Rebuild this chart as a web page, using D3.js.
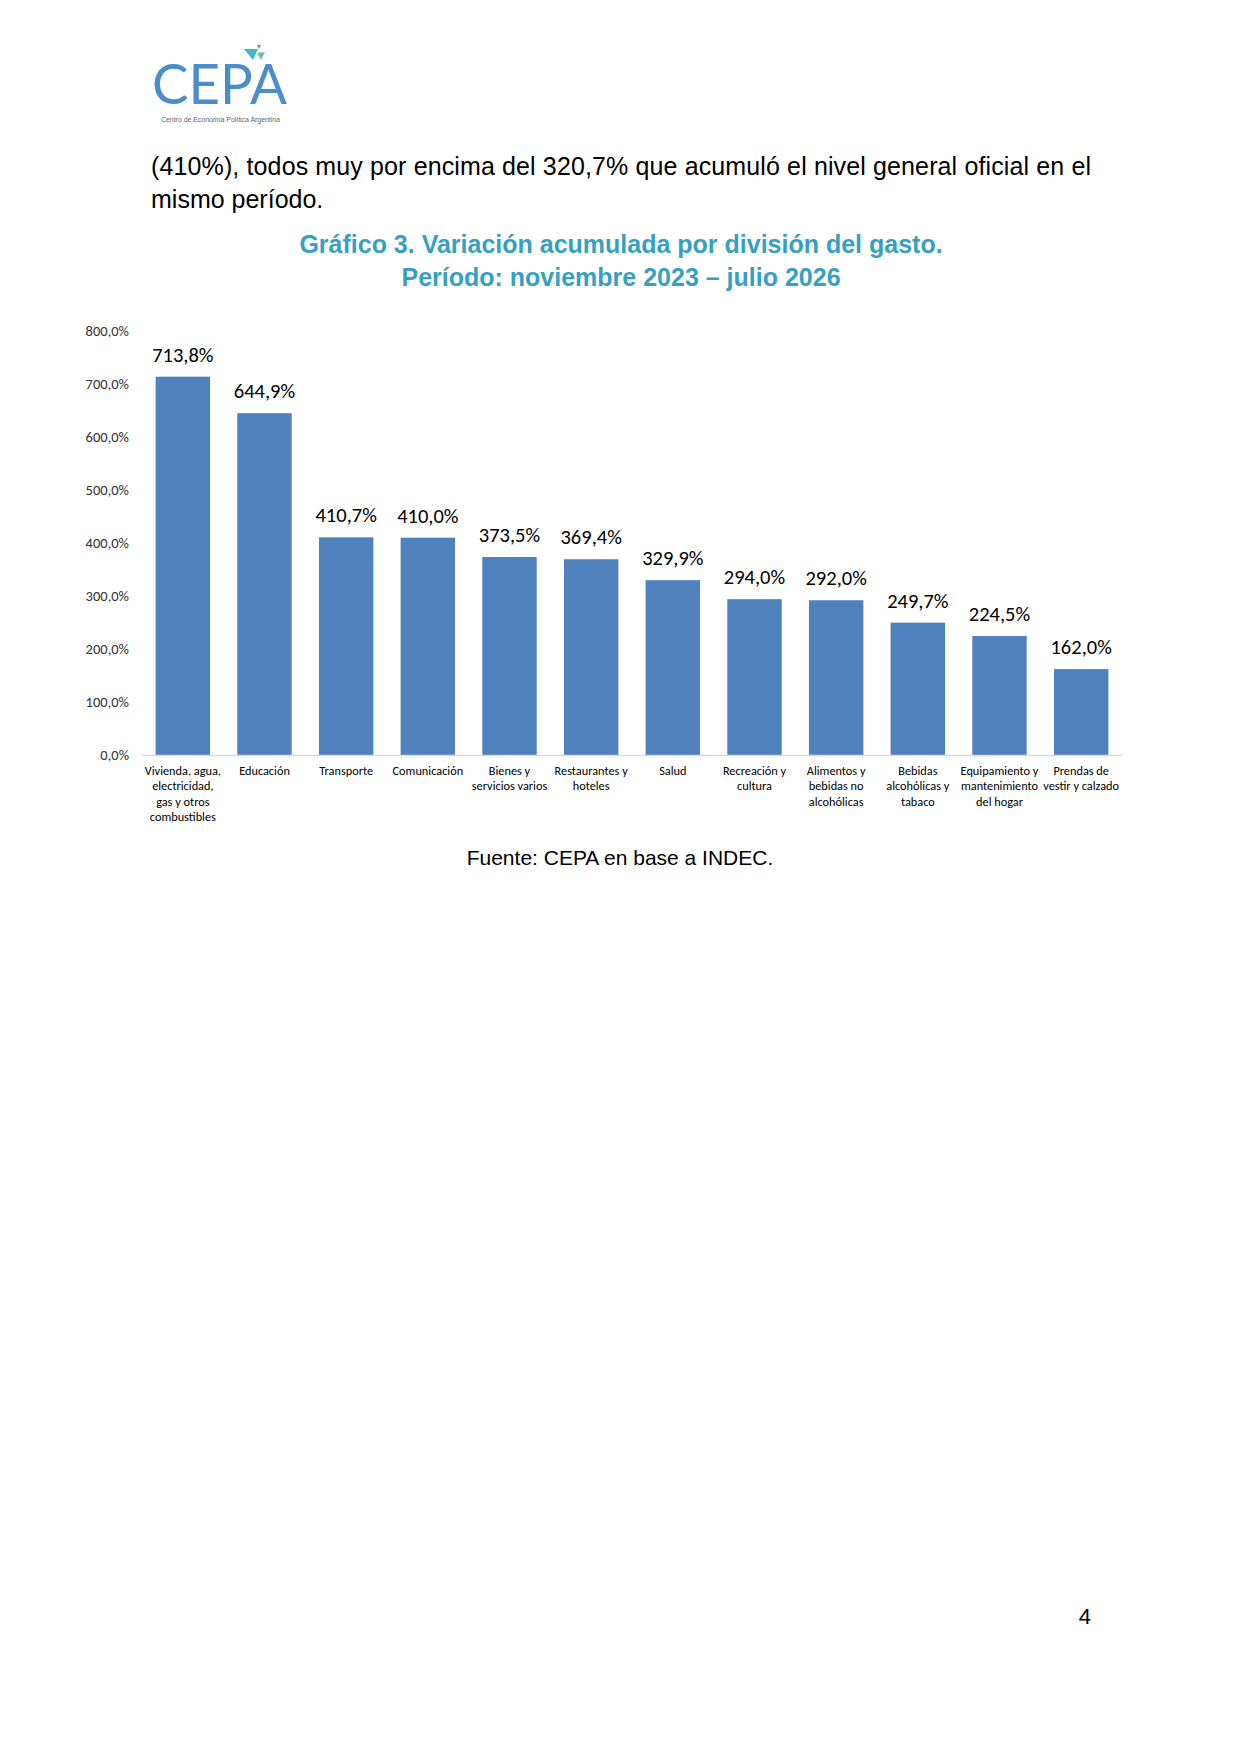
<!DOCTYPE html>
<html>
<head>
<meta charset="utf-8">
<script src="https://cdn.jsdelivr.net/npm/d3@7"></script>
<style>
  body { margin: 0; background: #fff; }
</style>
</head>
<body>
<div id="page"></div>
<script>
// Chart data
const categories = [
  'Vivienda, agua,\nelectricidad,\ngas y otros\ncombustibles',
  'Educación',
  'Transporte',
  'Comunicación',
  'Bienes y\nservicios varios',
  'Restaurantes y\nhoteles',
  'Salud',
  'Recreación y\ncultura',
  'Alimentos y\nbebidas no\nalcohólicas',
  'Bebidas\nalcohólicas y\ntabaco',
  'Equipamiento y\nmantenimiento\ndel hogar',
  'Prendas de\nvestir y calzado'
];
const values = [713.8, 644.9, 410.7, 410.0, 373.5, 369.4, 329.9, 294.0, 292.0, 249.7, 224.5, 162.0];
const yTicks = [0, 100, 200, 300, 400, 500, 600, 700, 800];

const paragraph = [
  '(410%), todos muy por encima del 320,7% que acumuló el nivel general oficial en el',
  'mismo período.'
];
const titleLines = [
  'Gráfico 3. Variación acumulada por división del gasto.',
  'Período: noviembre 2023 – julio 2026'
];
const source = 'Fuente: CEPA en base a INDEC.';

const W = 1241;
const H = 1755;
const chartFont = 'Carlito, Calibri, Lato, sans-serif';
const docFont = '"Liberation Sans", Arial, sans-serif';
const fmt = (v) => v.toFixed(1).replace('.', ',') + '%';

const svg = d3.select('#page')
  .append('svg')
  .attr('width', W)
  .attr('height', H);

svg.append('rect').attr('width', W).attr('height', H).attr('fill', '#fff');

// Logo
const logo = svg.append('g');
logo.append('text')
  .attr('x', 152)
  .attr('y', 104)
  .attr('font-family', 'Lato, sans-serif')
  .attr('font-weight', 400)
  .attr('font-size', 56)
  .attr('textLength', 135)
  .attr('lengthAdjust', 'spacingAndGlyphs')
  .attr('fill', '#4a8dca')
  .text('CEPA');
logo.append('path').attr('d', 'M244,49 L258,49 L253,60 Z').attr('fill', '#3fb7c4');
logo.append('path').attr('d', 'M257,53 L265,52 L261,60 Z').attr('fill', '#6cc3a0');
logo.append('path').attr('d', 'M257,45 L261,45 L259,49 Z').attr('fill', '#8b79b8');
logo.append('text')
  .attr('x', 161)
  .attr('y', 122)
  .attr('font-family', docFont)
  .attr('font-size', 7)
  .attr('textLength', 119)
  .attr('fill', '#666')
  .text('Centro de Economía Política Argentina');

// Body text above chart
svg.selectAll('.para')
  .data(paragraph)
  .enter()
  .append('text')
  .attr('class', 'para')
  .attr('x', 151)
  .attr('y', (d, i) => 175 + i * 33)
  .attr('font-family', docFont)
  .attr('font-size', 25)
  .attr('fill', '#000')
  .each(function (d, i) {
    if (i === 0) d3.select(this).attr('textLength', 940).attr('lengthAdjust', 'spacing');
  })
  .text((d) => d);

// Title
svg.selectAll('.title')
  .data(titleLines)
  .enter()
  .append('text')
  .attr('class', 'title')
  .attr('x', 621)
  .attr('y', (d, i) => 253 + i * 33)
  .attr('text-anchor', 'middle')
  .attr('font-family', docFont)
  .attr('font-weight', 'bold')
  .attr('font-size', 25)
  .attr('fill', '#36a0c1')
  .text((d) => d);

// Scales
const xScale = d3.scaleBand()
  .domain(d3.range(categories.length))
  .range([142, 1122])
  .paddingInner(1 / 3)
  .paddingOuter(1 / 6);
const yScale = d3.scaleLinear().domain([0, 800]).range([755, 331]);

// Y axis (labels only, no line)
const yAxis = d3.axisLeft(yScale).tickValues(yTicks).tickFormat(fmt).tickSize(0).tickPadding(0);
const yG = svg.append('g').attr('transform', 'translate(129,0)').call(yAxis);
yG.select('.domain').remove();
yG.selectAll('text')
  .attr('font-family', chartFont)
  .attr('font-size', 14.5)
  .attr('fill', '#333');

// Bars
svg.selectAll('.bar')
  .data(values)
  .enter()
  .append('rect')
  .attr('class', 'bar')
  .attr('x', (d, i) => xScale(i))
  .attr('y', (d) => yScale(d))
  .attr('width', xScale.bandwidth())
  .attr('height', (d) => yScale(0) - yScale(d))
  .attr('fill', '#4f81bd');

// Baseline
const xAxis = d3.axisBottom(xScale).tickSize(0).tickFormat('');
const xG = svg.append('g').attr('transform', `translate(0,${yScale(0)})`).call(xAxis);
xG.select('.domain').attr('stroke', '#d9d9d9').attr('stroke-width', 1.5);

// Data labels
svg.selectAll('.val')
  .data(values)
  .enter()
  .append('text')
  .attr('class', 'val')
  .attr('x', (d, i) => xScale(i) + xScale.bandwidth() / 2)
  .attr('y', (d) => yScale(d) - 15)
  .attr('text-anchor', 'middle')
  .attr('font-family', chartFont)
  .attr('font-size', 20.5)
  .attr('fill', '#000')
  .text(fmt);

// Category labels
svg.selectAll('.cat')
  .data(categories)
  .enter()
  .append('text')
  .attr('class', 'cat')
  .attr('text-anchor', 'middle')
  .attr('font-family', chartFont)
  .attr('font-size', 12.3)
  .attr('fill', '#000')
  .each(function (d, i) {
    d3.select(this).selectAll('tspan')
      .data(d.split('\n'))
      .enter()
      .append('tspan')
      .attr('x', xScale(i) + xScale.bandwidth() / 2)
      .attr('y', (l, j) => 775 + j * 15.4)
      .text((l) => l);
  });

// Source
svg.append('text')
  .attr('x', 620)
  .attr('y', 865)
  .attr('text-anchor', 'middle')
  .attr('font-family', docFont)
  .attr('font-size', 21)
  .attr('fill', '#000')
  .text(source);

// Page number
svg.append('text')
  .attr('x', 1091)
  .attr('y', 1624)
  .attr('text-anchor', 'end')
  .attr('font-family', docFont)
  .attr('font-size', 22)
  .attr('fill', '#000')
  .text('4');
</script>
</body>
</html>
